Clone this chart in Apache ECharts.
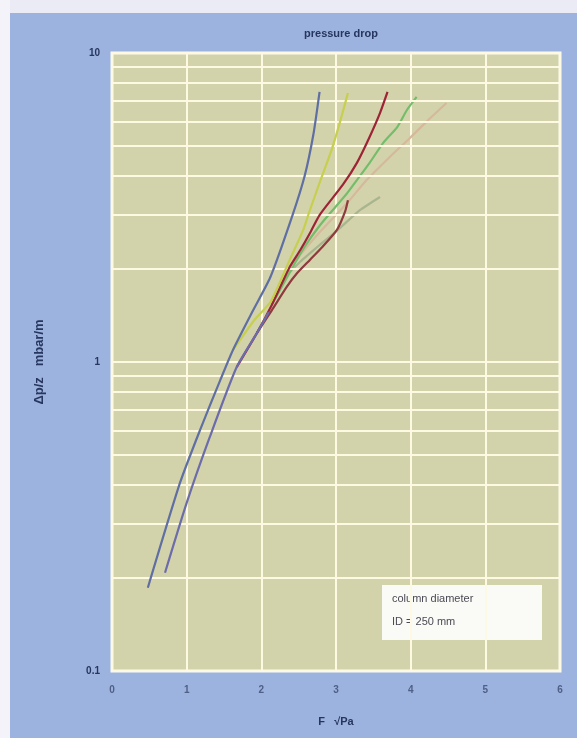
<!DOCTYPE html>
<html>
<head>
<meta charset="utf-8">
<script src="https://cdn.jsdelivr.net/npm/echarts@6/dist/echarts.min.js"></script>
<style>
  html, body { margin: 0; padding: 0; }
  #chart { width: 577px; height: 738px; }
</style>
</head>
<body>
<div id="chart"></div>
<script>
// F-factor [√Pa] vs pressure drop, one array per curve: [F, dp]
const blueCurve = [
  [0.48, 0.186], [0.91, 0.406], [1.18, 0.603], [1.45, 0.874], [1.62, 1.094],
  [1.89, 1.47], [2.12, 1.88], [2.41, 2.95], [2.58, 4.0], [2.7, 5.5], [2.78, 7.48]
]
const purpleCurve = [
  [0.71, 0.208], [1.0, 0.35], [1.31, 0.572], [1.67, 0.963], [1.94, 1.24], [2.1, 1.45]
]
const yellowCurve = [
  [1.62, 1.094], [1.91, 1.37], [2.12, 1.56], [2.22, 1.75], [2.38, 2.14],
  [2.56, 2.67], [2.65, 3.1], [2.78, 3.8], [2.94, 4.85], [3.05, 5.94], [3.16, 7.42]
]
const redCurve = [
  [1.67, 0.963], [1.94, 1.24], [2.14, 1.53], [2.38, 2.03], [2.52, 2.3], [2.65, 2.61],
  [2.78, 2.99], [3.09, 3.74], [3.28, 4.41], [3.45, 5.35], [3.59, 6.4], [3.69, 7.48]
]
const greenCurve = [
  [2.14, 1.53], [2.38, 1.95], [2.58, 2.36], [2.78, 2.76], [2.99, 3.17],
  [3.15, 3.52], [3.28, 3.88], [3.45, 4.41], [3.63, 5.11], [3.82, 5.76],
  [3.95, 6.54], [4.08, 7.21]
]
const tanCurve = [
  [2.38, 2.0], [2.52, 2.22], [2.78, 2.63], [3.15, 3.27], [3.41, 3.88],
  [3.72, 4.61], [3.99, 5.31], [4.22, 6.02], [4.48, 6.89]
]
const brownCurve = [
  [1.94, 1.24], [2.14, 1.47], [2.34, 1.75], [2.48, 1.94], [2.65, 2.14],
  [2.82, 2.36], [3.01, 2.67], [3.12, 3.06], [3.16, 3.34]
]
const greyCurve = [
  [2.38, 1.95], [2.52, 2.11], [2.78, 2.39], [3.05, 2.71], [3.32, 3.1], [3.59, 3.42]
]

// horizontal grid at every log subdivision
const yGridValues = [0.2, 0.3, 0.4, 0.5, 0.6, 0.7, 0.8, 0.9, 2, 3, 4, 5, 6, 7, 8, 9]

const gridColor = '#fdf9e2'
const textColor = '#26365e'

const chart = echarts.init(document.getElementById('chart'), null, { renderer: 'canvas' })

function curve(name, data, color, z) {
  return {
    name: name,
    type: 'line',
    data: data,
    smooth: 0.2,
    showSymbol: false,
    symbol: 'none',
    z: z,
    lineStyle: { color: color, width: 2.2 },
    silent: true
  }
}

chart.setOption({
  backgroundColor: '#9db3df',
  animation: false,
  textStyle: { fontFamily: 'Liberation Sans, Arial, sans-serif' },
  title: {
    text: 'pressure drop',
    left: 336,
    textAlign: 'center',
    top: 23,
    textStyle: { fontSize: 11, fontWeight: 'bold', color: textColor }
  },
  graphic: [
    { type: 'rect', left: 0, top: 0, z: -10, shape: { width: 577, height: 13 }, style: { fill: '#ebebf5' } },
    { type: 'rect', left: 0, top: 0, z: -10, shape: { width: 10, height: 738 }, style: { fill: '#f3f3f9' } },
    {
      type: 'group', left: 382, top: 585, z: 100,
      children: [
        { type: 'rect', shape: { width: 160, height: 55 }, style: { fill: '#fafaf6' } },
        { type: 'text', left: 10, top: 8, style: { text: 'column diameter', fontSize: 11, fill: '#4a4a55' } },
        { type: 'text', left: 10, top: 31, style: { text: 'ID = 250 mm', fontSize: 11, fill: '#4a4a55' } }
      ]
    }
  ],
  grid: {
    left: 112, right: 17, top: 53, bottom: 67,
    show: true,
    backgroundColor: '#d3d3ab',
    borderColor: '#fbfbf2',
    borderWidth: 3
  },
  xAxis: {
    type: 'value',
    min: 0, max: 6, interval: 1,
    name: 'F   √Pa',
    nameLocation: 'middle',
    nameGap: 45,
    nameTextStyle: { fontSize: 11, fontWeight: 'bold', color: textColor },
    axisLine: { show: false },
    axisTick: { show: false },
    axisLabel: { fontSize: 10, fontWeight: 'bold', color: '#4f5f86', margin: 14 },
    splitLine: { show: true, lineStyle: { color: gridColor, width: 2 } }
  },
  yAxis: {
    type: 'log',
    logBase: 10,
    min: 0.1, max: 10,
    name: 'Δp/z   mbar/m',
    nameLocation: 'middle',
    nameRotate: 90,
    nameGap: 66,
    nameTextStyle: { fontSize: 13, fontWeight: 'bold', color: textColor },
    axisLine: { show: false },
    axisTick: { show: false },
    axisLabel: { fontSize: 10, fontWeight: 'bold', color: textColor, margin: 12, formatter: v => String(v) },
    splitLine: { show: true, lineStyle: { color: gridColor, width: 2 } }
  },
  series: [
    {
      type: 'line',
      data: [],
      silent: true,
      z: 1,
      markLine: {
        silent: true,
        symbol: 'none',
        label: { show: false },
        lineStyle: { color: gridColor, width: 2, type: 'solid' },
        data: yGridValues.map(v => ({ yAxis: v }))
      }
    },
    curve('grey', greyCurve, '#a9b58f', 3),
    curve('tan', tanCurve, '#d6b99a', 3),
    curve('green', greenCurve, '#74bd6a', 4),
    curve('brown', brownCurve, '#8e3a3e', 5),
    curve('red', redCurve, '#9c2436', 6),
    curve('purple', purpleCurve, '#6c6cab', 7),
    curve('yellow', yellowCurve, '#c6cf4e', 8),
    curve('blue', blueCurve, '#5f6fa3', 9)
  ]
})
</script>
</body>
</html>
